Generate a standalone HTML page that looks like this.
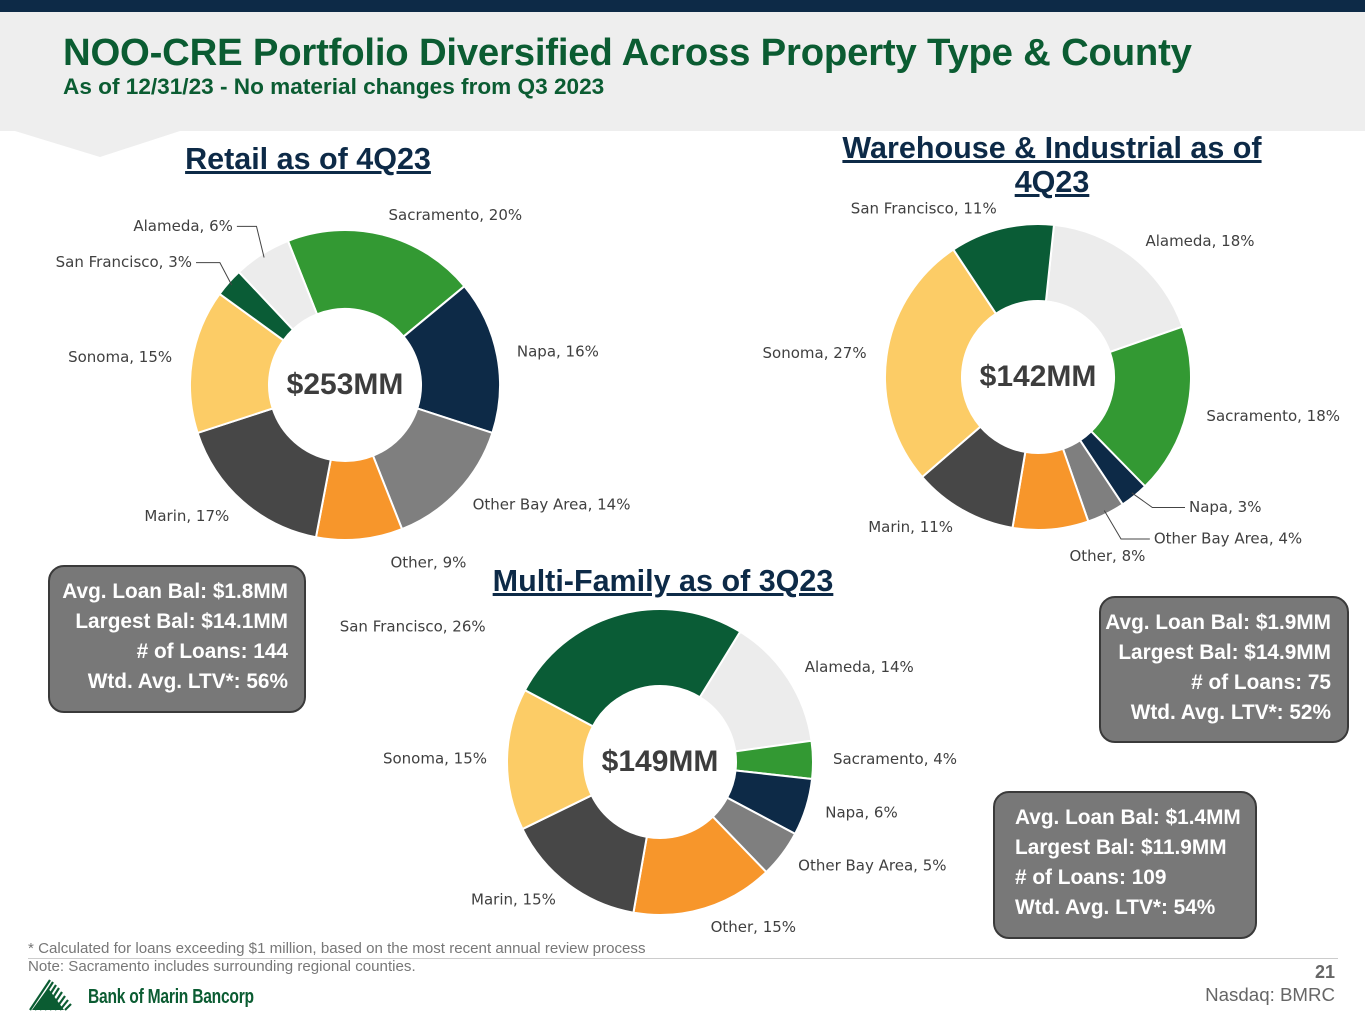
<!DOCTYPE html>
<html><head><meta charset="utf-8">
<style>
html,body{margin:0;padding:0;background:#fff;}
body{width:1365px;height:1024px;position:relative;overflow:hidden;font-family:"Liberation Sans",Arial,sans-serif;}
.abs{position:absolute;}
.title{left:63px;top:31px;font-size:38.3px;font-weight:bold;color:#0b5c32;white-space:nowrap;letter-spacing:-0.2px;}
.sub{left:63px;top:74px;font-size:22.6px;font-weight:bold;color:#0b5c32;white-space:nowrap;}
.ct{font-size:30.5px;font-weight:bold;color:#0d2a47;text-decoration:underline;text-align:center;white-space:nowrap;line-height:34px;}
.box{background:#787878;border:2px solid #3a3a3a;border-radius:16px;color:#fff;font-weight:bold;font-size:20.8px;line-height:30px;box-sizing:border-box;padding-top:10px;}
.foot{font-size:15.1px;color:#777;white-space:nowrap;}
</style></head>
<body>
<div class="abs" style="left:0;top:0;width:1365px;height:12px;background:#0d2a47"></div>
<svg class="abs" style="left:0;top:12px" width="1365" height="150">
<polygon points="0,0 1365,0 1365,119 180,119 100,145 15,119 0,119" fill="#eeeeee"/>
</svg>
<div class="abs title">NOO-CRE Portfolio Diversified Across Property Type &amp; County</div>
<div class="abs sub">As of 12/31/23 - No material changes from Q3 2023</div>

<div class="abs ct" style="left:158px;top:142px;width:300px">Retail as of 4Q23</div>
<div class="abs ct" style="left:800px;top:131px;width:504px">Warehouse &amp; Industrial as of <br>4Q23</div>
<div class="abs ct" style="left:443px;top:564px;width:440px">Multi-Family as of 3Q23</div>

<svg id="charts" class="abs" style="left:0;top:0" width="1365" height="1024"></svg>

<div class="abs box" style="left:48px;top:565px;width:258px;height:148px;text-align:right;padding-right:16px">Avg. Loan Bal: $1.8MM<br>Largest Bal: $14.1MM<br># of Loans: 144<br>Wtd. Avg. LTV*: 56%</div>
<div class="abs box" style="left:1099px;top:596px;width:250px;height:147px;text-align:right;padding-right:16px">Avg. Loan Bal: $1.9MM<br>Largest Bal: $14.9MM<br># of Loans: 75<br>Wtd. Avg. LTV*: 52%</div>
<div class="abs box" style="left:993px;top:791px;width:264px;height:148px;text-align:left;padding-left:20px">Avg. Loan Bal: $1.4MM<br>Largest Bal: $11.9MM<br># of Loans: 109<br>Wtd. Avg. LTV*: 54%</div>

<div class="abs foot" style="left:28px;top:940px">* Calculated for loans exceeding $1 million, based on the most recent annual review process</div>
<div class="abs" style="left:28px;top:958px;width:1310px;height:1px;background:#ccc"></div>
<div class="abs foot" style="left:28px;top:958px">Note: Sacramento includes surrounding regional counties.</div>
<div class="abs" style="right:30px;top:962px;font-size:18px;font-weight:bold;color:#666">21</div>
<div class="abs" style="right:30px;top:984px;font-size:18.7px;color:#666">Nasdaq: BMRC</div>
<svg class="abs" style="left:28px;top:976px" width="60" height="36">
<g stroke="#0b5c32" stroke-width="2.2">
<line x1="2" y1="34" x2="22" y2="4"/><line x1="7" y1="34" x2="25" y2="6"/><line x1="12" y1="34" x2="28" y2="9"/><line x1="17" y1="34" x2="31" y2="12"/><line x1="22" y1="34" x2="34" y2="16"/><line x1="27" y1="34" x2="37" y2="20"/><line x1="32" y1="34" x2="40" y2="24"/><line x1="37" y1="34" x2="43" y2="28"/>
</g><polygon points="4,34 20,12 36,34" fill="#0b5c32"/>
</svg>
<div class="abs" style="left:88px;top:986px;font-size:20px;font-weight:bold;color:#0b5c32;transform:scaleX(0.78);transform-origin:left top;letter-spacing:-0.3px;white-space:nowrap">Bank of Marin Bancorp</div>

<script>
// Retail (4Q23), clockwise from start angle
const retailCategories = ["Sacramento","Napa","Other Bay Area","Other","Marin","Sonoma","San Francisco","Alameda"];
const retailValues = [20,16,14,9,17,15,3,6];
// Warehouse & Industrial (4Q23)
const whCategories = ["Alameda","Sacramento","Napa","Other Bay Area","Other","Marin","Sonoma","San Francisco"];
const whValues = [18,18,3,4,8,11,27,11];
// Multi-Family (3Q23)
const mfCategories = ["Alameda","Sacramento","Napa","Other Bay Area","Other","Marin","Sonoma","San Francisco"];
const mfValues = [14,4,6,5,15,15,15,26];
const centerLabels = ["$253MM","$142MM","$149MM"];

const colorMap = {"Sacramento":"#339933","Napa":"#0d2a47","Other Bay Area":"#7f7f7f","Other":"#f7962b","Marin":"#474747","Sonoma":"#fccc66","San Francisco":"#0a5c36","Alameda":"#ececec"};
const NS = "http://www.w3.org/2000/svg";
const svg = document.getElementById('charts');

const layouts = [
  {cx:345, cy:385, r:155, ri:76, start:-21.6, name:'retail', cats:retailCategories, vals:retailValues,
   adj:{"San Francisco":[4,16],"Alameda":[0,18],"Other":[29,4]}, leader:["San Francisco","Alameda"]},
  {cx:1038, cy:377, r:153, ri:76, start:6, name:'warehouse', cats:whCategories, vals:whValues,
   adj:{"Napa":[21,-30],"Other Bay Area":[24,-23],"Other":[17,7]}, leader:["Napa","Other Bay Area"]},
  {cx:660, cy:762, r:153, ri:76, start:31.6, name:'multifamily', cats:mfCategories, vals:mfValues,
   adj:{"San Francisco":[-129,32]}, leader:[]}
];

function pt(cx,cy,r,deg){const a=(deg-90)*Math.PI/180;return [cx+r*Math.cos(a),cy+r*Math.sin(a)];}
function mk(tag,attrs){const e=document.createElementNS(NS,tag);for(const k in attrs)e.setAttribute(k,attrs[k]);return e;}

layouts.forEach((L,ci)=>{
  const total=L.vals.reduce((a,b)=>a+b,0);
  let ang=L.start;
  L.cats.forEach((cat,i)=>{
    const sweep=L.vals[i]/total*360;
    const a0=ang,a1=ang+sweep;ang=a1;
    const p0=pt(L.cx,L.cy,L.r,a0),p1=pt(L.cx,L.cy,L.r,a1),q1=pt(L.cx,L.cy,L.ri,a1),q0=pt(L.cx,L.cy,L.ri,a0);
    const large=sweep>180?1:0;
    const d=`M${p0[0]},${p0[1]} A${L.r},${L.r} 0 ${large} 1 ${p1[0]},${p1[1]} L${q1[0]},${q1[1]} A${L.ri},${L.ri} 0 ${large} 0 ${q0[0]},${q0[1]} Z`;
    const path=mk('path',{d:d,fill:colorMap[cat],stroke:'#fff','stroke-width':2});
    
    
    svg.appendChild(path);
    const mid=(a0+a1)/2;
    const small=L.leader.indexOf(cat)>=0;
    const lr=small?L.r*1.35:L.r+20;
    let [lx,ly]=pt(L.cx,L.cy,lr,mid);
    const ad=L.adj[cat]||[0,0];
    lx+=ad[0];ly+=ad[1];
    const dx=lx-L.cx;
    let anchor=Math.abs(dx)<30?'middle':(dx>0?'start':'end');
    if(small){
      const s=pt(L.cx,L.cy,L.r-4,mid);
      const ex=anchor==='start'?lx-4:lx+4;
      const ln=mk('polyline',{points:`${s[0]},${s[1]} ${(s[0]+ex)/2+(anchor==='start'?-6:6)},${ly} ${ex},${ly}`,fill:'none',stroke:'#444','stroke-width':1});
      
      
      svg.appendChild(ln);
    }
    const t=mk('text',{x:lx,y:ly,'text-anchor':anchor,'dominant-baseline':'middle','font-family':'"DejaVu Sans","Liberation Sans",sans-serif','font-size':'15',fill:'#404040'});
    t.textContent=cat+', '+L.vals[i]+'%';
    
    
    svg.appendChild(t);
  });
  const c=mk('text',{x:L.cx,y:L.cy+1,'text-anchor':'middle','dominant-baseline':'middle','font-family':'"Liberation Sans",sans-serif','font-size':'30','font-weight':'bold',fill:'#3d3d3d'});
  c.textContent=centerLabels[ci];
  
  
  svg.appendChild(c);
});
</script>
</body></html>
